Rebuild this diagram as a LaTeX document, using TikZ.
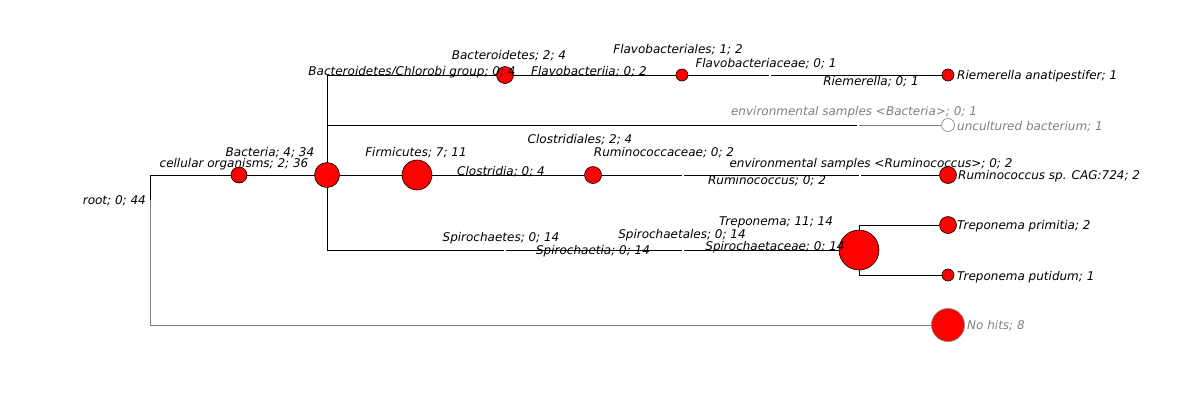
\documentclass[tikz,border=0pt]{standalone}
\usepackage{fontspec}
\setmainfont{DejaVu Sans}
\usetikzlibrary{backgrounds}
\definecolor{hitred}{RGB}{255,0,0}
\definecolor{nogray}{RGB}{128,128,128}
\begin{document}
\begin{tikzpicture}[x=1pt,y=-1pt,
  lbl/.style={font=\itshape\fontsize{12}{14}\selectfont, inner sep=0pt, text=black},
  glbl/.style={lbl, text=nogray},
  hit/.style={circle, draw=black, fill=hitred, inner sep=0pt, minimum size=#1, line width=0.6pt},
  ghit/.style={circle, draw=nogray, fill=hitred, inner sep=0pt, minimum size=#1, line width=0.6pt},
  openhit/.style={circle, draw=nogray, fill=white, inner sep=0pt, minimum size=#1, line width=0.6pt},
  edge/.style={draw=black, line width=0.8pt},
  gedge/.style={draw=nogray, line width=0.8pt},
  gap/.style={shorten >=1.2pt},
  gapb/.style={shorten <=1.2pt}]
\useasboundingbox (0,0) rectangle (1198,400);

% nodes
\coordinate (root) at (150,200);
\coordinate (rootTop) at (150,175);
\node[hit=16] (cell) at (239,175) {};
\node[hit=25] (bact) at (327,175) {};
\coordinate (bactTop) at (327,75);
\coordinate (bactEnv) at (327,125);
\coordinate (bactSpi) at (327,250);
\node[hit=17] (bacteroidetes) at (505,75) {};
\node[hit=12] (flavales) at (682,75) {};
\coordinate (flavGap) at (770,75);
\node[hit=12] (riemA) at (948,75) {};
\coordinate (envGap) at (858,125);
\node[openhit=13] (uncult) at (948,125) {};
\node[hit=30] (firm) at (417,175) {};
\node[hit=17] (clostr) at (593,175) {};
\coordinate (rumGapA) at (683,175);
\coordinate (rumGapB) at (860,175);
\node[hit=17] (rumsp) at (948,175) {};
\coordinate (spiGapA) at (505,250);
\coordinate (spiGapB) at (683,250);
\node[hit=40] (trep) at (859,250) {};
\coordinate (trepTop) at (859,225);
\coordinate (trepBot) at (859,275);
\node[hit=17] (tprim) at (948,225) {};
\node[hit=12] (tput) at (948,275) {};
\coordinate (rootBot) at (150,325);
\node[ghit=33] (nohits) at (948,325) {};

% connectors
\begin{pgfonlayer}{background}
\draw[edge] (root) -- (rootTop) -- (cell);
\draw[gedge] (root) -- (rootBot) -- (nohits);
\draw[edge] (cell) -- (bact);
\draw[edge] (bactTop) -- (bactSpi);
\draw[edge] (bactTop) -- (bacteroidetes) -- (flavales);
\draw[edge,gap] (flavales) -- (flavGap);
\draw[edge,gapb] (flavGap) -- (riemA);
\draw[edge,gap] (bactEnv) -- (envGap);
\draw[gedge,gapb] (envGap) -- (uncult);
\draw[edge] (bact) -- (firm) -- (clostr);
\draw[edge,gap] (clostr) -- (rumGapA);
\draw[edge,gap,gapb] (rumGapA) -- (rumGapB);
\draw[edge,gapb] (rumGapB) -- (rumsp);
\draw[edge,gap] (bactSpi) -- (spiGapA);
\draw[edge,gap,gapb] (spiGapA) -- (spiGapB);
\draw[edge,gapb] (spiGapB) -- (trep);
\draw[edge] (tprim) -- (trepTop) -- (trepBot) -- (tput);
\end{pgfonlayer}

% labels
\node[lbl, anchor=east] (lroot) at (146,201) {root; 0; 44};
\node[lbl] (lcell) at (234,164) {cellular organisms; 2; 36};
\node[lbl] (lbact) at (270,153) {Bacteria; 4; 34};
\node[lbl] (lbcg) at (412,72) {Bacteroidetes/Chlorobi group; 0; 4};
\node[lbl] (lbactd) at (509,56) {Bacteroidetes; 2; 4};
\node[lbl] (lflavia) at (589,72) {Flavobacteriia; 0; 2};
\node[lbl] (lflavales) at (678,50) {Flavobacteriales; 1; 2};
\node[lbl] (lflavaceae) at (766,64) {Flavobacteriaceae; 0; 1};
\node[lbl] (lriem) at (871,82) {Riemerella; 0; 1};
\node[lbl, anchor=west] (lriemA) at (957,76) {Riemerella anatipestifer; 1};
\node[glbl] (lenvB) at (854,112) {environmental samples <Bacteria>; 0; 1};
\node[glbl, anchor=west] (luncult) at (957,127) {uncultured bacterium; 1};
\node[lbl] (lfirm) at (416,153) {Firmicutes; 7; 11};
\node[lbl] (lclostria) at (501,172) {Clostridia; 0; 4};
\node[lbl] (lclostr) at (580,140) {Clostridiales; 2; 4};
\node[lbl] (lrumc) at (664,153) {Ruminococcaceae; 0; 2};
\node[lbl] (lenvR) at (871,164) {environmental samples <Ruminococcus>; 0; 2};
\node[lbl] (lrum) at (767,181) {Ruminococcus; 0; 2};
\node[lbl, anchor=west] (lrumsp) at (958,176) {Ruminococcus sp. CAG:724; 2};
\node[lbl] (lspi) at (501,238) {Spirochaetes; 0; 14};
\node[lbl] (lspia) at (593,251) {Spirochaetia; 0; 14};
\node[lbl] (lspiales) at (682,235) {Spirochaetales; 0; 14};
\node[lbl] (lspiaceae) at (775,247) {Spirochaetaceae; 0; 14};
\node[lbl] (ltrep) at (776,222) {Treponema; 11; 14};
\node[lbl, anchor=west] (ltprim) at (957,226) {Treponema primitia; 2};
\node[lbl, anchor=west] (ltput) at (957,277) {Treponema putidum; 1};
\node[glbl, anchor=west] (lnohits) at (967,326) {No hits; 8};
\end{tikzpicture}
\end{document}
